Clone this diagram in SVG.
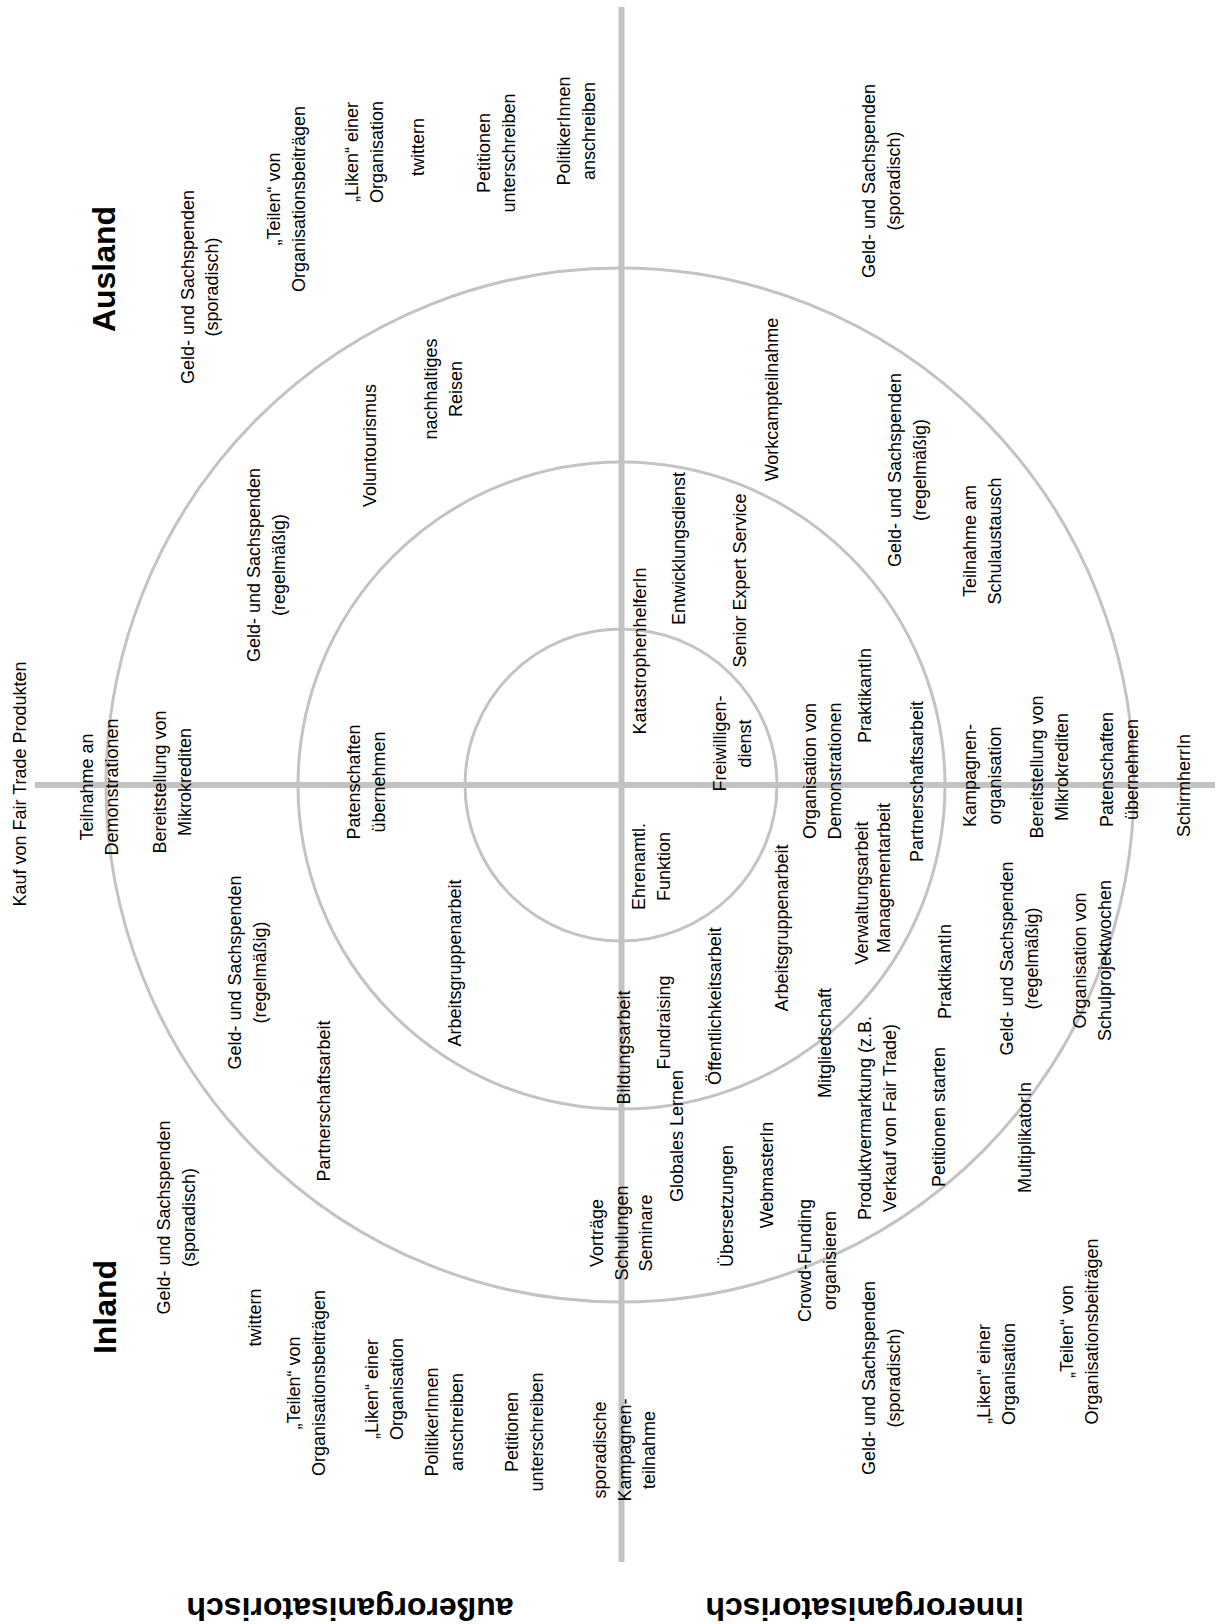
<svg xmlns="http://www.w3.org/2000/svg" width="1220" height="1624" viewBox="0 0 1220 1624">
<style>
text{font-family:"Liberation Sans",Arial,Helvetica,sans-serif;font-size:18px;fill:#000;text-anchor:middle}
.big{font-size:32px;font-weight:bold}
.ring{fill:none;stroke:#c3c3c3;stroke-width:3}
.axis{stroke:#c3c3c3;stroke-width:6}
</style>
<rect width="1220" height="1624" fill="#fff"/>
<g id="connectors">
<circle class="ring" cx="621" cy="785" r="156"/>
<circle class="ring" cx="621.5" cy="785.5" r="323.5"/>
<ellipse class="ring" cx="620" cy="785" rx="514" ry="517"/>
<line class="axis" x1="621.5" y1="7" x2="621.5" y2="1562"/>
<line class="axis" x1="35" y1="785" x2="1215" y2="785"/>
</g>
<g id="t-ausland" transform="translate(115,269) rotate(-90)"><text class="big">Ausland</text></g>
<g id="t-inland" transform="translate(116,1307) rotate(-90)"><text class="big">Inland</text></g>
<g id="t-ausser" transform="translate(350,1598) rotate(180)"><text class="big">außerorganisatorisch</text></g>
<g id="t-inner" transform="translate(864.5,1598) rotate(180)"><text class="big">innerorganisatorisch</text></g>

<g id="a-geld-spor" transform="translate(193.5,287) rotate(-90)"><text><tspan x="0" y="0">Geld- und Sachspenden</tspan><tspan x="0" dy="24.5">(sporadisch)</tspan></text></g>
<g id="a-teilen" transform="translate(280,199) rotate(-90)"><text><tspan x="0" y="0">„Teilen“ von</tspan><tspan x="0" dy="24.5">Organisationsbeiträgen</tspan></text></g>
<g id="a-liken" transform="translate(358,152) rotate(-90)"><text><tspan x="0" y="0">„Liken“ einer</tspan><tspan x="0" dy="24.5">Organisation</tspan></text></g>
<g id="a-twittern" transform="translate(424,147) rotate(-90)"><text>twittern</text></g>
<g id="a-petitionen" transform="translate(490,153) rotate(-90)"><text><tspan x="0" y="0">Petitionen</tspan><tspan x="0" dy="24.5">unterschreiben</tspan></text></g>
<g id="a-politiker" transform="translate(570,131) rotate(-90)"><text><tspan x="0" y="0">PolitikerInnen</tspan><tspan x="0" dy="24.5">anschreiben</tspan></text></g>
<g id="a-voluntourismus" transform="translate(376,445.5) rotate(-90)"><text>Voluntourismus</text></g>
<g id="a-reisen" transform="translate(437,389) rotate(-90)"><text><tspan x="0" y="0">nachhaltiges</tspan><tspan x="0" dy="24.5">Reisen</tspan></text></g>
<g id="a-geld-regel" transform="translate(260,565) rotate(-90)"><text><tspan x="0" y="0">Geld- und Sachspenden</tspan><tspan x="0" dy="24.5">(regelmäßig)</tspan></text></g>
<g id="a-demo" transform="translate(93,787) rotate(-90)"><text><tspan x="0" y="0">Teilnahme an</tspan><tspan x="0" dy="24.5">Demonstrationen</tspan></text></g>
<g id="a-kauf" transform="translate(26,784) rotate(-90)"><text>Kauf von Fair Trade Produkten</text></g>
<g id="a-mikro" transform="translate(166,782) rotate(-90)"><text><tspan x="0" y="0">Bereitstellung von</tspan><tspan x="0" dy="24.5">Mikrokrediten</tspan></text></g>
<g id="a-paten" transform="translate(360,782) rotate(-90)"><text><tspan x="0" y="0">Patenschaften</tspan><tspan x="0" dy="24.5">übernehmen</tspan></text></g>

<g id="b-arbeitsgruppen" transform="translate(461,963) rotate(-90)"><text>Arbeitsgruppenarbeit</text></g>
<g id="b-partner" transform="translate(330,1101) rotate(-90)"><text>Partnerschaftsarbeit</text></g>
<g id="b-geld-regel" transform="translate(241,972.5) rotate(-90)"><text><tspan x="0" y="0">Geld- und Sachspenden</tspan><tspan x="0" dy="24.5">(regelmäßig)</tspan></text></g>
<g id="b-geld-spor" transform="translate(170,1217.5) rotate(-90)"><text><tspan x="0" y="0">Geld- und Sachspenden</tspan><tspan x="0" dy="24.5">(sporadisch)</tspan></text></g>
<g id="b-twittern" transform="translate(261,1317.5) rotate(-90)"><text>twittern</text></g>
<g id="b-teilen" transform="translate(300,1383) rotate(-90)"><text><tspan x="0" y="0">„Teilen“ von</tspan><tspan x="0" dy="24.5">Organisationsbeiträgen</tspan></text></g>
<g id="b-liken" transform="translate(378,1389) rotate(-90)"><text><tspan x="0" y="0">„Liken“ einer</tspan><tspan x="0" dy="24.5">Organisation</tspan></text></g>
<g id="b-politiker" transform="translate(438,1422) rotate(-90)"><text><tspan x="0" y="0">PolitikerInnen</tspan><tspan x="0" dy="24.5">anschreiben</tspan></text></g>
<g id="b-petitionen" transform="translate(518,1432) rotate(-90)"><text><tspan x="0" y="0">Petitionen</tspan><tspan x="0" dy="24.5">unterschreiben</tspan></text></g>
<g id="b-kampagne" transform="translate(606,1450) rotate(-90)"><text><tspan x="0" y="0">sporadische</tspan><tspan x="0" dy="24.5">Kampagnen-</tspan><tspan x="0" dy="24.5">teilnahme</tspan></text></g>
<g id="b-vortraege" transform="translate(603,1233) rotate(-90)"><text><tspan x="0" y="0">Vorträge</tspan><tspan x="0" dy="24.5">Schulungen</tspan><tspan x="0" dy="24.5">Seminare</tspan></text></g>

<g id="c-bildung" transform="translate(630,1047.5) rotate(-90)"><text>Bildungsarbeit</text></g>
<g id="c-globales" transform="translate(683,1136) rotate(-90)"><text>Globales Lernen</text></g>
<g id="c-fundraising" transform="translate(670,1022.5) rotate(-90)"><text>Fundraising</text></g>
<g id="c-oeffentlich" transform="translate(721,1006) rotate(-90)"><text>Öffentlichkeitsarbeit</text></g>
<g id="c-arbeitsgruppen" transform="translate(788,928) rotate(-90)"><text>Arbeitsgruppenarbeit</text></g>
<g id="c-ehrenamt" transform="translate(645,866.5) rotate(-90)"><text><tspan x="0" y="0">Ehrenamtl.</tspan><tspan x="0" dy="24.5">Funktion</tspan></text></g>
<g id="c-uebersetzungen" transform="translate(733,1206) rotate(-90)"><text>Übersetzungen</text></g>
<g id="c-webmaster" transform="translate(773,1175) rotate(-90)"><text>WebmasterIn</text></g>
<g id="c-crowd" transform="translate(811,1260.5) rotate(-90)"><text><tspan x="0" y="0">Crowd-Funding</tspan><tspan x="0" dy="24.5">organisieren</tspan></text></g>
<g id="c-mitglied" transform="translate(831,1043) rotate(-90)"><text>Mitgliedschaft</text></g>
<g id="c-produkt" transform="translate(871,1118) rotate(-90)"><text><tspan x="0" y="0">Produktvermarktung (z.B.</tspan><tspan x="0" dy="24.5">Verkauf von Fair Trade)</tspan></text></g>
<g id="c-verwaltung" transform="translate(868,893) rotate(-90)"><text>Verwaltungsarbeit</text></g>
<g id="c-management" transform="translate(890,878) rotate(-90)"><text>Managementarbeit</text></g>
<g id="c-geld-regel" transform="translate(1013,958.5) rotate(-90)"><text><tspan x="0" y="0">Geld- und Sachspenden</tspan><tspan x="0" dy="24.5">(regelmäßig)</tspan></text></g>
<g id="c-praktikant" transform="translate(951,971.5) rotate(-90)"><text>PraktikantIn</text></g>
<g id="c-petitionen" transform="translate(945,1117) rotate(-90)"><text>Petitionen starten</text></g>
<g id="c-multiplikator" transform="translate(1031,1137.5) rotate(-90)"><text>MultiplikatorIn</text></g>
<g id="c-schulprojekt" transform="translate(1086,960.5) rotate(-90)"><text><tspan x="0" y="0">Organisation von</tspan><tspan x="0" dy="24.5">Schulprojektwochen</tspan></text></g>
<g id="c-geld-spor" transform="translate(875,1378) rotate(-90)"><text><tspan x="0" y="0">Geld- und Sachspenden</tspan><tspan x="0" dy="24.5">(sporadisch)</tspan></text></g>
<g id="c-liken" transform="translate(990,1374) rotate(-90)"><text><tspan x="0" y="0">„Liken“ einer</tspan><tspan x="0" dy="24.5">Organisation</tspan></text></g>
<g id="c-teilen" transform="translate(1073,1331.5) rotate(-90)"><text><tspan x="0" y="0">„Teilen“ von</tspan><tspan x="0" dy="24.5">Organisationsbeiträgen</tspan></text></g>

<g id="d-demo-org" transform="translate(816,771) rotate(-90)"><text><tspan x="0" y="0">Organisation von</tspan><tspan x="0" dy="24.5">Demonstrationen</tspan></text></g>
<g id="d-praktikant" transform="translate(871,695.5) rotate(-90)"><text>PraktikantIn</text></g>
<g id="d-partner" transform="translate(923,781.5) rotate(-90)"><text>Partnerschaftsarbeit</text></g>
<g id="d-kampagne" transform="translate(976,775.5) rotate(-90)"><text><tspan x="0" y="0">Kampagnen-</tspan><tspan x="0" dy="24.5">organisation</tspan></text></g>
<g id="d-mikro" transform="translate(1043,767) rotate(-90)"><text><tspan x="0" y="0">Bereitstellung von</tspan><tspan x="0" dy="24.5">Mikrokrediten</tspan></text></g>
<g id="d-paten" transform="translate(1113,769.5) rotate(-90)"><text><tspan x="0" y="0">Patenschaften</tspan><tspan x="0" dy="24.5">übernehmen</tspan></text></g>
<g id="d-schirm" transform="translate(1190,785.5) rotate(-90)"><text>SchirmherrIn</text></g>
<g id="d-geld-regel" transform="translate(901,470) rotate(-90)"><text><tspan x="0" y="0">Geld- und Sachspenden</tspan><tspan x="0" dy="24.5">(regelmäßig)</tspan></text></g>
<g id="d-schul" transform="translate(976,541) rotate(-90)"><text><tspan x="0" y="0">Teilnahme am</tspan><tspan x="0" dy="24.5">Schulaustausch</tspan></text></g>
<g id="d-workcamp" transform="translate(778,399.5) rotate(-90)"><text>Workcampteilnahme</text></g>
<g id="d-geld-spor" transform="translate(875,181) rotate(-90)"><text><tspan x="0" y="0">Geld- und Sachspenden</tspan><tspan x="0" dy="24.5">(sporadisch)</tspan></text></g>
<g id="d-entwicklung" transform="translate(685,548.5) rotate(-90)"><text>Entwicklungsdienst</text></g>
<g id="d-senior" transform="translate(746,580.5) rotate(-90)"><text>Senior Expert Service</text></g>
<g id="d-katastrophe" transform="translate(646,651) rotate(-90)"><text>KatastrophenhelferIn</text></g>
<g id="d-freiwillig" transform="translate(726,743.5) rotate(-90)"><text><tspan x="0" y="0">Freiwilligen-</tspan><tspan x="0" dy="24.5">dienst</tspan></text></g>
</svg>
